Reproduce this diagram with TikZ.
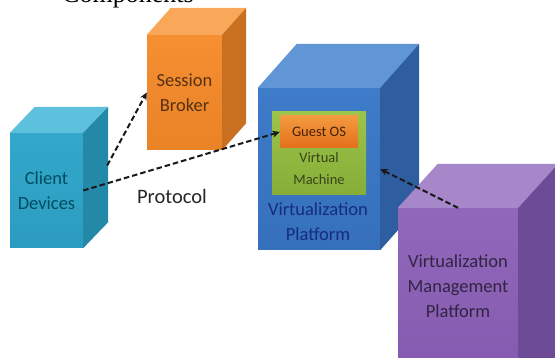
\documentclass[tikz,border=0pt]{standalone}
\usepackage{fontspec}
\setmainfont{Carlito}
\newfontfamily\capfont{Liberation Serif}
\usetikzlibrary{arrows.meta,calc}

% colours of the cubes
\definecolor{cdFront}{HTML}{33A8CB}
\definecolor{cdFrontB}{HTML}{2B9CBF}
\definecolor{cdTop}{HTML}{5DC0DD}
\definecolor{cdSide}{HTML}{2488A8}
\definecolor{sbFront}{HTML}{F58F32}
\definecolor{sbFrontB}{HTML}{EA8226}
\definecolor{sbTop}{HTML}{F8A858}
\definecolor{sbSide}{HTML}{C86F20}
\definecolor{vpFront}{HTML}{3E7BC8}
\definecolor{vpFrontB}{HTML}{3670BC}
\definecolor{vpTop}{HTML}{6096D6}
\definecolor{vpSide}{HTML}{2E5EA0}
\definecolor{vmGreen}{HTML}{9CC44A}
\definecolor{vmGreenB}{HTML}{86AD37}
\definecolor{goTop}{HTML}{F39A40}
\definecolor{goBot}{HTML}{E46F1A}
\definecolor{mpFront}{HTML}{9068BA}
\definecolor{mpFrontB}{HTML}{8257AE}
\definecolor{mpTop}{HTML}{A587CA}
\definecolor{mpSide}{HTML}{6E4B96}

% top and right faces of a cube whose front face is node #1
\newcommand\cubefaces[5]{%
  \fill[#4] (#1.north west) -- ++(#2,-#3) -- ($(#1.north east)+(#2,-#3)$) -- (#1.north east) -- cycle;
  \fill[#5] (#1.north east) -- ++(#2,-#3) -- ($(#1.south east)+(#2,-#3)$) -- (#1.south east) -- cycle;
}

\begin{document}
\begin{tikzpicture}[x=1pt,y=-1pt,
  face/.style={inner sep=0pt, align=center},
  big/.style={font=\fontsize{18.5}{25}\selectfont},
  small/.style={font=\fontsize{14.5}{22}\selectfont},
  link/.style={draw=black!90, line width=2pt, dash pattern=on 5.5pt off 3pt,
    -{Stealth[length=7.5pt,width=7pt]}}]
\useasboundingbox (0,0) rectangle (555,358);
\clip (0,0) rectangle (555,358);
\fill[white] (0,0) rectangle (555,358);

% heading, cut by the upper edge
\node[anchor=base west, inner sep=0pt, font=\capfont\fontsize{26}{26}\selectfont] (cap) at (62,2.5) {Components};

% Client Devices
\node[face, big, minimum width=73pt, minimum height=115pt, top color=cdFront, bottom color=cdFrontB,
  text=black!60!blue!40!cyan!50!black] (cd) at (46.5,190.5) {Client\\Devices};
\cubefaces{cd}{25}{26}{cdTop}{cdSide}

% Session Broker
\node[face, big, minimum width=75pt, minimum height=115pt, top color=sbFront, bottom color=sbFrontB,
  text=black!65!sbFront] (sb) at (184.5,92.5) {Session\\Broker};
\cubefaces{sb}{24}{27}{sbTop}{sbSide}

% Virtualization Platform
\node[face, minimum width=122pt, minimum height=162pt, top color=vpFront, bottom color=vpFrontB] (vp) at (319,169) {};
\cubefaces{vp}{39}{44}{vpTop}{vpSide}
\node[big, align=center, text=black!55!vpFront!80!blue] (vpt) at (318,222) {Virtualization\\Platform};

% Virtual Machine with its guest OS
\node[face, minimum width=94pt, minimum height=83pt, top color=vmGreen, bottom color=vmGreenB] (vm) at (319,153.5) {};
\node[small, align=center, text=black!65!vmGreen] (vmt) at (319,169) {Virtual\\Machine};
\node[face, small, minimum width=78pt, minimum height=32pt, top color=goTop, bottom color=goBot,
  text=black!70!goBot] (go) at (319,132) {Guest OS};

% Virtualization Management Platform
\node[face, minimum width=120pt, minimum height=202pt, top color=mpFront, bottom color=mpFrontB] (mp) at (458,309) {};
\cubefaces{mp}{40}{44}{mpTop}{mpSide}
\node[big, align=center, text=black!65!mpFront] (mpt) at (458,286) {Virtualization\\Management\\Platform};

% protocol label
\node[font=\fontsize{20.5}{21}\selectfont, text=black!85] (proto) at (172,196) {Protocol};

% connectors
\coordinate (cdside) at ($(cd.east)+(24,-25)$);
\draw[link] (cdside) -- (sb.west);
\draw[link] (cd.east) -- (go.west);
\draw[link] (mp.north) -- (vp.east);
\end{tikzpicture}
\end{document}
